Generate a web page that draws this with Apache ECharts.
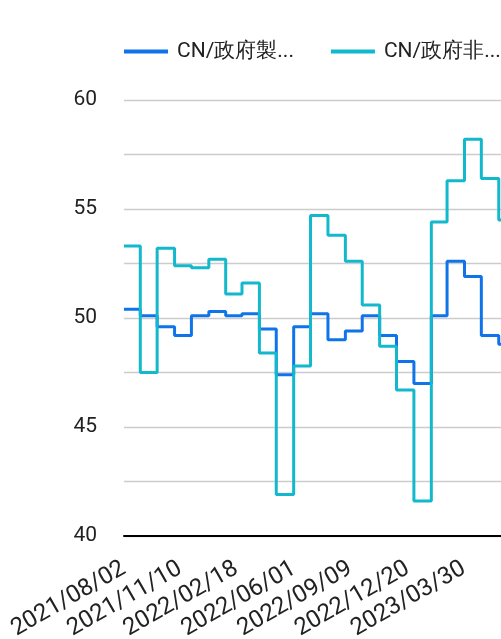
<!DOCTYPE html>
<html>
<head>
<meta charset="utf-8">
<script src="https://cdn.jsdelivr.net/npm/echarts@6/dist/echarts.min.js"></script>
<style>html,body{margin:0;padding:0;background:#fff}#c{width:501px;height:639px}</style>
</head>
<body>
<div id="c"></div>
<script>
const dates = ['2021-08-02','2021-08-31','2021-09-30','2021-10-31','2021-11-30','2021-12-31','2022-01-30','2022-02-28','2022-03-31','2022-04-30','2022-05-31','2022-06-30','2022-07-31','2022-08-31','2022-09-30','2022-10-31','2022-11-30','2022-12-31','2023-01-31','2023-02-28','2023-03-31','2023-04-30','2023-05-31','2023-06-06'];
const mfg = [50.4,50.1,49.6,49.2,50.1,50.3,50.1,50.2,49.5,47.4,49.6,50.2,49.0,49.4,50.1,49.2,48.0,47.0,50.1,52.6,51.9,49.2,48.8,48.8];
const nonMfg = [53.3,47.5,53.2,52.4,52.3,52.7,51.1,51.6,48.4,41.9,47.8,54.7,53.8,52.6,50.6,48.7,46.7,41.6,54.4,56.3,58.2,56.4,54.5,54.5];
const tickDates = ['2021/08/02','2021/11/10','2022/02/18','2022/06/01','2022/09/09','2022/12/20','2023/03/30'];
const seriesNames = ['CN/政府製造業PMI','CN/政府非製造業PMI'];
const legendLabels = {'CN/政府製造業PMI':'CN/政府製...','CN/政府非製造業PMI':'CN/政府非...'};
const colors = ['#0f74ea','#12b8cc'];

const ts = s => { const p = s.split(/[-\/]/).map(Number); return Date.UTC(p[0], p[1]-1, p[2]); };
const pad = n => (n < 10 ? '0' : '') + n;
const fmt = v => { const d = new Date(v); return d.getUTCFullYear() + '/' + pad(d.getUTCMonth()+1) + '/' + pad(d.getUTCDate()); };

const chart = echarts.init(document.getElementById('c'), null, {renderer:'canvas'});
const font = 'Roboto';
chart.setOption({
  animation: false,
  color: colors,
  textStyle: {fontFamily: font},
  legend: {
    left: 124, top: 41, width: 900, padding: 0,
    icon: 'rect', itemWidth: 44, itemHeight: 4, itemGap: 37,
    textStyle: {fontSize: 21, color: '#222', fontFamily: font, padding: [0,0,0,4]},
    formatter: n => legendLabels[n],
    data: seriesNames
  },
  grid: {left: 124, right: 0, top: 100, bottom: 103, containLabel: false, outerBoundsMode: 'none'},
  xAxis: {
    type: 'value',
    min: ts(dates[0]), max: ts('2023-06-04'),
    axisLine: {lineStyle: {color: '#000', width: 2}},
    axisTick: {show: false},
    splitLine: {show: false},
    axisLabel: {
      customValues: tickDates.map(ts),
      formatter: v => fmt(v),
      rotate: 30, fontSize: 24, color: '#222', margin: 31, fontFamily: font,
      showMinLabel: true, showMaxLabel: true, hideOverlap: false
    }
  },
  yAxis: {
    type: 'value', min: 40, max: 60, interval: 2.5,
    axisLine: {show: false}, axisTick: {show: false},
    splitLine: {lineStyle: {color: '#cccccc', width: 1.3}},
    axisLabel: {
      fontSize: 21, color: '#222', margin: 27, fontFamily: font,
      formatter: v => (v % 5 === 0 ? String(v) : '')
    }
  },
  series: [
    {name: seriesNames[0], type: 'line', step: 'end', showSymbol: false, symbol: 'none',
     lineStyle: {width: 3, color: colors[0]}, data: dates.map((d,i)=>[ts(d), mfg[i]])},
    {name: seriesNames[1], type: 'line', step: 'end', showSymbol: false, symbol: 'none',
     lineStyle: {width: 3, color: colors[1]}, data: dates.map((d,i)=>[ts(d), nonMfg[i]])}
  ]
});
</script>
</body>
</html>
